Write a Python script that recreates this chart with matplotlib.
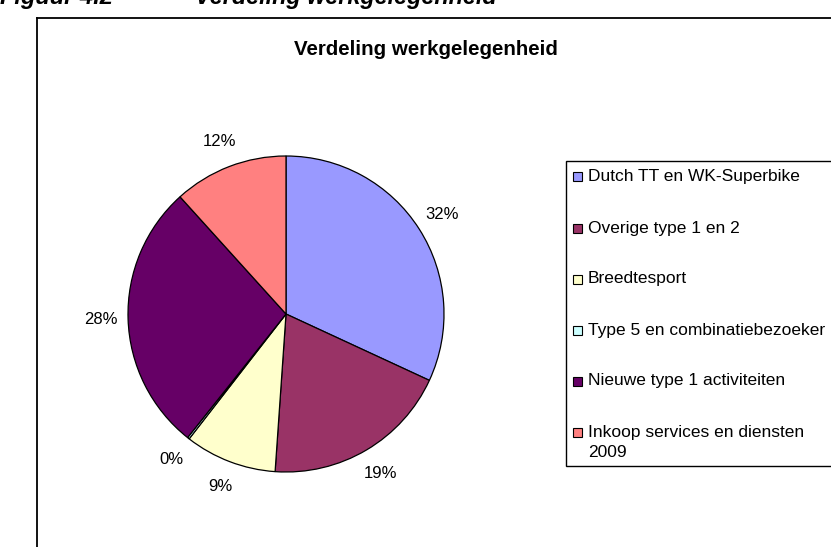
import matplotlib.pyplot as plt
from matplotlib.patches import Rectangle
from matplotlib.lines import Line2D

# data
categorieen = ['Dutch TT en WK-Superbike', 'Overige type 1 en 2', 'Breedtesport',
               'Type 5 en combinatiebezoeker', 'Nieuwe type 1 activiteiten',
               'Inkoop services en diensten\n2009']
aandelen = [31.9, 19.2, 9.4, 0.2, 27.6, 11.7]
kleuren = ['#9999FF', '#993366', '#FFFFCC', '#CCFFFF', '#660066', '#FF8080']

plt.rcParams['font.family'] = ['Liberation Sans', 'DejaVu Sans']

W, H = 831, 547
fig = plt.figure(figsize=(W / 100, H / 100), dpi=100)

def fx(px):
    return px / W

def fy(py):
    return 1 - py / H

# kop bovenaan (half afgesneden, zoals in het origineel)
fig.text(fx(0), fy(4), 'Figuur 4.2', fontsize=17, fontweight='bold', style='italic',
         ha='left', va='baseline')
fig.text(fx(195), fy(4), 'Verdeling werkgelegenheid', fontsize=16.8, fontweight='bold',
         style='italic', ha='left', va='baseline')

# kader van de grafiek
fig.add_artist(Line2D([fx(37), fx(37)], [fy(18), fy(H + 5)], color='black', lw=1.3))
fig.add_artist(Line2D([fx(37), fx(W + 5)], [fy(18), fy(18)], color='black', lw=1.3))

# titel
fig.text(fx(426), fy(55), 'Verdeling werkgelegenheid', fontsize=14.8, fontweight='bold',
         ha='center', va='baseline')

# taartdiagram
cx, cy, r = 286, 314, 158
ax = fig.add_axes([fx(cx - r), fy(cy + r), 2 * r / W, 2 * r / H])
wedges, teksten, pcts = ax.pie(aandelen, colors=kleuren, startangle=90, counterclock=False,
                               autopct='%1.0f%%', pctdistance=1.17,
                               wedgeprops={'edgecolor': 'black', 'linewidth': 0.9},
                               textprops={'fontsize': 12, 'color': 'black'})
ax.set_xlim(-1, 1)
ax.set_ylim(-1, 1)

# legenda
fig.add_artist(Rectangle((fx(566), fy(466)), fx(W + 10) - fx(566), fy(161) - fy(466),
                         facecolor='white', edgecolor='black', lw=1.0))
y0 = 177
for i, (naam, kleur) in enumerate(zip(categorieen, kleuren)):
    y = y0 + i * 51
    fig.add_artist(Rectangle((fx(573), fy(y + 4.5)), 9 / W, 9 / H,
                             facecolor=kleur, edgecolor='black', lw=0.8))
    if '\n' in naam:
        fig.text(fx(588), fy(y - 7), naam, fontsize=12.5, ha='left', va='top',
                 linespacing=1.45)
    else:
        fig.text(fx(588), fy(y), naam, fontsize=12.5, ha='left', va='center')

fig.savefig('out.png', dpi=100)
